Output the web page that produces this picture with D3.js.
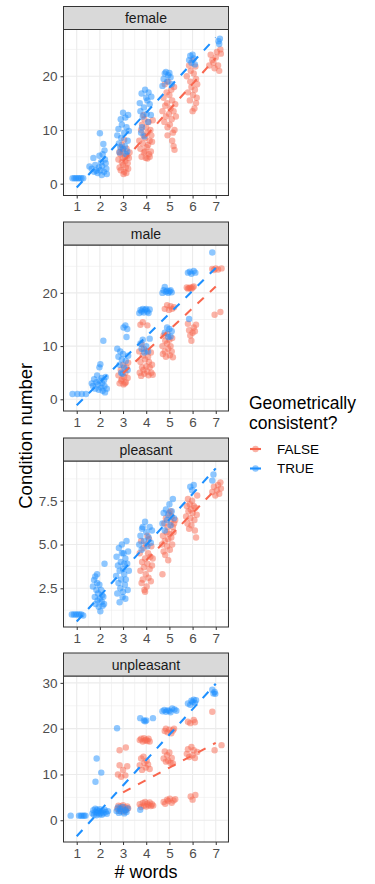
<!DOCTYPE html>
<html>
<head>
<meta charset="utf-8">
<script src="https://cdn.jsdelivr.net/npm/d3@7"></script>
<style>
  body { margin: 0; background: #fff; }
  text { font-family: "Liberation Sans", Arial, sans-serif; }
</style>
</head>
<body>
<div id="chart"></div>
<script>
// facets, top to bottom
const panels = ["female", "male", "pleasant", "unpleasant"];
const groups = ["FALSE", "TRUE"];
const xTicks = [1, 2, 3, 4, 5, 6, 7];
const yTicks = {
    female: [0, 10, 20],
    male: [0, 10, 20],
    pleasant: [2.5, 5.0, 7.5],
    unpleasant: [0, 10, 20, 30]
};
const yMinor = {
    female: [5, 15, 25],
    male: [5, 15, 25],
    pleasant: [1.25, 3.75, 6.25, 8.75],
    unpleasant: [-5, 5, 15, 25]
};
const yDomains = {
    female: [-2.2, 28.7],
    male: [-2.2, 29.0],
    pleasant: [0.29, 9.77],
    unpleasant: [-4.75, 31.5]
};

// jittered points [x, condition number]
const femaleTrue = [[0.82,1],[0.9,1],[0.97,1],[1.05,1],[1.12,1],[1.2,1],[1.28,1],
    [1.55,3.2],[1.65,2.8],[1.72,4.8],[1.8,3.5],[1.85,2.4],[1.9,2.0],[1.95,3.0],[2.0,9.4],[2.02,2.5],[2.05,4.0],[2.1,3.3],[2.12,5.5],[2.15,7.4],[2.18,2.2],[2.22,4.5],[2.25,3.8],[2.28,2.8],[2.3,1.8],[1.75,2.2],[2.08,1.6],[1.98,5.2],[2.2,6.2],
    [2.75,9.0],[2.8,10.2],[2.82,7.5],[2.85,5.8],[2.9,12.0],[2.92,8.5],[2.95,11.0],[3.0,6.5],[3.0,13.2],[3.05,9.5],[3.08,7.0],[3.1,12.3],[3.12,5.5],[3.15,10.5],[3.2,8.0],[3.22,12.8],[2.88,6.8],[3.18,6.0],[3.25,9.8],
    [3.72,15.0],[3.75,13.5],[3.8,16.8],[3.85,12.5],[3.9,14.2],[3.95,17.5],[4.0,16.0],[4.02,13.0],[4.05,15.5],[4.1,17.0],[4.15,14.8],[4.2,12.8],[3.82,10.5],[3.78,9.5],[4.08,11.5],[4.22,16.2],[3.92,8.8],
    [4.75,19.5],[4.8,20.5],[4.85,20.8],[4.9,19.0],[4.95,20.2],[5.0,20.6],[5.05,19.8],[5.1,18.5],[4.7,18.2],
    [5.85,23.0],[5.9,23.8],[5.95,22.5],[6.0,24.0],[6.05,23.3],[6.1,22.2],
    [7.12,26.5],[7.18,27.0],[7.15,26.0]];
const femaleFalse = [[2.8,4.5],[2.85,3.0],[2.88,5.5],[2.9,2.5],[2.95,4.0],[3.0,6.0],[3.0,3.5],[3.05,2.2],[3.08,5.0],[3.1,4.2],[3.12,3.0],[3.15,6.5],[3.18,5.2],[3.2,3.8],[3.22,2.8],[3.25,4.8],[2.92,6.5],[3.02,1.8],[3.14,2.0],[2.98,4.8],[3.28,5.8],[2.84,5.9],[3.05,8.2],[2.95,7.2],
    [3.7,8.0],[3.75,6.5],[3.78,10.0],[3.8,5.0],[3.82,11.0],[3.85,7.5],[3.88,9.0],[3.9,5.8],[3.92,12.0],[3.95,8.5],[3.98,4.8],[4.0,10.5],[4.02,6.8],[4.05,9.5],[4.08,7.2],[4.1,11.5],[4.12,5.5],[4.15,8.0],[4.18,10.0],[4.2,6.0],[4.22,9.0],[4.25,7.8],[4.28,11.8],[3.88,12.8],[4.05,4.7],[3.95,6.0],[4.15,5.0],
    [4.7,13.5],[4.75,16.0],[4.78,11.5],[4.8,18.5],[4.82,14.5],[4.85,12.5],[4.88,17.0],[4.9,15.0],[4.92,10.5],[4.95,19.0],[4.98,13.0],[5.0,16.5],[5.02,11.0],[5.05,14.0],[5.08,17.5],[5.1,12.0],[5.12,15.5],[5.15,9.5],[5.18,13.5],[5.2,18.0],[5.22,10.0],[5.25,14.8],[5.12,8.0],[5.18,7.0],[5.22,6.3],[5.28,12.5],[4.92,9.0],
    [5.75,20.0],[5.8,17.0],[5.85,22.0],[5.88,15.5],[5.9,19.0],[5.92,21.0],[5.95,18.0],[6.0,23.0],[6.02,16.5],[6.05,20.5],[6.08,14.0],[6.1,17.5],[6.12,21.8],[6.15,19.5],[6.18,16.0],[6.2,18.5],[6.15,15.0],[6.0,13.5],
    [6.72,22.0],[6.78,24.0],[6.85,23.0],[6.9,22.5],[6.95,21.5],[7.0,23.5],[7.05,24.5],[7.1,22.0],[7.15,21.0],[7.2,25.0],[7.22,24.2]];

const maleTrue = [[0.82,1],[1.03,1],[1.22,1],[1.4,1],
    [1.65,3.0],[1.7,2.5],[1.75,3.8],[1.8,2.0],[1.85,3.2],[1.88,4.5],[1.92,2.8],[1.95,1.8],[2.0,3.5],[2.02,6.6],[2.05,2.2],[2.08,4.0],[2.1,3.0],[2.12,1.6],[2.15,11.0],[2.18,3.6],[2.2,2.5],[2.25,4.2],[2.3,2.0],[1.98,6.0],[2.22,1.3],
    [2.75,9.5],[2.8,8.0],[2.85,6.5],[2.88,9.0],[2.92,5.0],[2.95,7.5],[3.0,8.5],[3.02,13.5],[3.05,6.0],[3.1,13.9],[3.12,7.2],[3.15,11.7],[3.18,13.2],[3.2,5.5],[3.22,8.2],[2.98,4.8],
    [3.7,16.2],[3.75,16.8],[3.8,16.5],[3.85,17.0],[3.9,16.3],[3.95,16.8],[4.0,17.0],[4.05,16.5],[4.1,16.2],[4.15,16.9],[3.75,10.5],[3.8,9.5],[3.85,11.2],[3.92,8.8],[4.0,10.0],[4.08,9.0],[4.15,11.4],
    [4.7,20.0],[4.75,20.5],[4.8,21.1],[4.85,20.2],[4.9,20.4],[4.95,20.0],[5.0,20.3],[5.05,20.5],[5.1,20.1],[4.8,12.5],[4.9,13.5],[5.0,13.2],[5.05,11.8],[5.1,12.8],[4.95,11.7],
    [5.8,23.8],[5.88,24.0],[5.95,23.6],[6.05,24.1],[6.12,23.8],[5.85,15.1],
    [6.85,27.6]];
const maleFalse = [[2.8,4.5],[2.85,3.0],[2.9,5.5],[2.95,3.8],[3.0,6.5],[3.02,2.8],[3.05,4.2],[3.1,5.0],[3.12,3.2],[3.15,6.0],[3.2,4.0],[3.22,6.9],[2.92,3.5],[3.08,3.0],
    [3.7,9.0],[3.72,5.0],[3.75,7.0],[3.78,4.4],[3.8,10.4],[3.82,6.0],[3.85,8.2],[3.88,5.5],[3.9,9.5],[3.92,4.8],[3.95,7.5],[4.0,6.2],[4.02,9.0],[4.05,5.2],[4.08,8.0],[4.1,4.5],[4.12,7.0],[4.15,6.0],[4.2,8.8],[4.22,5.0],[4.25,6.5],[4.28,4.6],[3.75,14.0],[3.85,14.5],[4.05,13.9],
    [4.7,10.0],[4.72,8.5],[4.75,12.0],[4.8,9.0],[4.82,11.0],[4.85,8.0],[4.9,10.5],[4.92,12.3],[4.95,9.5],[5.0,11.2],[5.02,8.3],[5.05,10.0],[5.1,9.0],[5.12,11.5],[5.15,7.9],[4.8,17.0],[4.9,17.7],[4.98,16.8],[5.05,17.5],[5.12,17.0],[5.2,17.3],
    [5.75,21.0],[5.8,20.8],[5.85,20.9],[5.9,21.0],[5.95,20.8],[6.0,21.0],[6.05,21.2],[5.8,14.2],[5.85,13.0],[5.9,12.0],[5.95,11.0],[6.0,12.5],[6.05,13.5],[6.1,12.8],[6.15,14.0],
    [6.85,24.5],[6.92,24.3],[7.0,24.6],[7.1,24.4],[7.25,24.6],[6.95,15.9],[7.2,16.4]];

const pleasantTrue = [[0.79,1.0],[0.88,1.0],[0.96,1.0],[1.04,1.0],[1.12,1.0],[1.2,1.0],[1.28,0.95],
    [1.7,2.6],[1.75,2.98],[1.78,2.0],[1.8,3.17],[1.82,1.6],[1.85,2.4],[1.88,2.8],[1.9,1.8],[1.92,2.2],[1.95,1.44],[1.98,2.7],[2.0,1.9],[2.02,1.19],[2.05,2.4],[2.08,1.73],[2.1,2.1],[2.12,1.5],[2.15,2.02],[2.18,1.6],[2.2,3.9],[1.88,3.3],
    [2.7,3.2],[2.72,4.3],[2.75,2.2],[2.78,3.8],[2.8,2.8],[2.82,4.8],[2.85,3.5],[2.88,2.5],[2.9,4.0],[2.92,3.0],[2.95,5.0],[2.98,2.0],[3.0,3.6],[3.02,4.5],[3.05,3.3],[3.08,2.7],[3.1,4.2],[3.12,3.0],[3.15,5.2],[3.18,3.9],[3.2,2.4],[3.22,4.6],[3.25,3.5],[2.85,1.7],[3.0,2.3],[3.1,1.9],[2.95,4.5],[3.05,3.9],
    [3.7,5.0],[3.75,5.5],[3.8,4.7],[3.85,6.0],[3.9,5.2],[3.95,6.3],[4.0,5.7],[4.05,4.9],[4.1,5.4],[4.15,6.0],[4.2,5.1],[4.25,5.8],[3.82,5.9],
    [4.7,6.2],[4.75,6.8],[4.8,5.8],[4.85,7.0],[4.9,6.4],[4.95,6.7],[5.0,7.3],[5.05,6.1],[5.1,6.9],[5.15,7.6],[5.2,6.5],
    [5.9,8.3],[5.98,8.1],[6.05,8.4],
    [6.85,8.65],[6.9,9.0]];
const pleasantFalse = [[3.72,4.5],[3.75,3.5],[3.78,5.2],[3.8,2.8],[3.82,4.0],[3.85,3.0],[3.88,4.8],[3.9,3.7],[3.92,2.4],[3.95,4.2],[3.98,3.3],[4.0,5.0],[4.02,2.6],[4.05,3.9],[4.08,4.5],[4.1,3.1],[4.12,5.3],[4.15,3.6],[4.18,4.3],[4.2,2.9],[4.22,4.9],[4.25,3.8],[4.28,4.2],[3.95,2.3],[4.05,5.5],
    [4.68,5.0],[4.72,5.5],[4.75,4.6],[4.78,6.2],[4.8,5.2],[4.82,4.4],[4.85,6.5],[4.88,5.7],[4.9,4.9],[4.92,6.0],[4.95,5.3],[4.98,6.8],[5.0,5.6],[5.02,4.7],[5.05,6.3],[5.08,5.4],[5.1,6.6],[5.12,5.0],[5.15,6.0],[5.18,5.7],[5.2,6.2],[5.25,6.4],[4.7,3.3],[4.95,4.1],[5.05,6.9],
    [5.72,6.6],[5.75,7.2],[5.78,6.2],[5.8,7.6],[5.82,6.9],[5.85,5.9],[5.88,7.3],[5.9,6.5],[5.92,7.0],[5.95,6.1],[5.98,7.5],[6.0,6.8],[6.05,7.2],[6.08,6.4],[6.1,5.8],[6.12,7.1],[6.15,5.4],[6.18,6.7],[6.2,7.8],
    [6.85,8.0],[6.92,8.3],[6.98,7.8],[7.05,8.1],[7.1,8.4],[7.15,7.9],[7.2,8.55],[7.22,8.2]];

const unpleasantTrue = [[0.74,1.0],[1.1,1.0],[1.18,1.0],[1.25,1.0],[1.32,1.0],[1.38,1.0],
    [1.68,1.5],[1.72,2.2],[1.75,1.2],[1.8,2.5],[1.82,1.8],[1.85,1.1],[1.88,2.3],[1.9,1.6],[1.95,2.0],[1.98,1.3],[2.0,2.4],[2.05,1.7],[2.08,1.2],[2.1,2.1],[2.15,1.5],[2.2,2.3],[2.25,1.8],[2.3,1.4],[2.35,2.0],[1.86,13.5],[2.06,10.4],[1.81,8.4],
    [2.74,20.1],[2.72,2.0],[2.78,2.8],[2.82,1.6],[2.88,2.5],[2.92,1.9],[2.98,2.9],[3.05,1.5],[3.1,2.2],[3.15,1.8],[3.2,2.6],
    [3.74,22.3],[3.9,21.8],[3.95,21.6],[4.0,21.8],[4.29,22.3],[3.74,2.3],
    [4.7,23.8],[4.78,24.1],[4.85,23.7],[4.92,24.0],[5.0,23.9],[5.05,23.6],[5.12,24.4],[5.22,24.2],[5.3,23.9],
    [5.8,25.5],[5.9,25.2],[5.95,26.1],[6.0,25.8],[6.05,26.3],[6.1,25.6],[6.15,26.2],
    [6.85,28.5],[6.9,27.7],[6.95,28.0],[6.98,27.6]];
const unpleasantFalse = [[2.75,2.5],[2.8,3.2],[2.85,2.0],[2.9,3.0],[2.95,2.4],[3.0,3.3],[3.02,1.9],[3.08,2.8],[3.12,2.2],[3.18,3.0],[3.22,2.6],[2.85,15.3],[3.12,15.9],[2.78,10.0],[2.85,12.0],[2.92,9.5],[3.0,11.0],[3.1,9.8],[3.18,11.8],
    [3.72,17.5],[3.78,17.8],[3.85,17.2],[3.9,17.9],[3.95,17.4],[4.0,17.6],[4.05,17.3],[4.1,17.8],[4.15,17.2],[3.72,12.0],[3.78,13.5],[3.82,11.0],[3.88,13.9],[3.92,12.5],[3.98,11.5],[4.02,13.0],[4.08,12.2],[4.15,11.2],
    [3.72,3.5],[3.78,2.9],[3.85,3.8],[3.9,3.2],[3.95,4.0],[4.0,3.0],[4.05,3.6],[4.1,3.3],[4.15,3.9],[4.2,3.1],[4.25,3.5],[4.3,3.2],
    [4.8,19.5],[4.85,20.0],[4.92,19.2],[5.0,19.8],[5.08,19.0],[5.15,19.6],[5.2,20.0],[4.75,13.5],[4.8,15.0],[4.85,12.8],[4.9,14.2],[4.95,13.0],[5.0,14.8],[5.05,12.5],[5.1,13.6],[5.15,12.4],
    [4.75,4.0],[4.82,3.6],[4.9,4.5],[4.95,4.2],[5.02,4.7],[5.1,3.8],[5.18,4.3],[5.25,4.6],
    [5.8,21.5],[5.9,21.2],[6.05,21.9],[6.1,21.4],[5.75,14.5],[5.8,15.5],[5.85,13.8],[5.95,16.0],[6.0,14.2],[6.05,15.3],[6.1,13.6],[6.2,14.9],[5.92,5.2],[6.0,4.5],[6.12,5.5],
    [6.85,23.7],[6.95,15.3],[7.25,16.4]];

// fitted lm lines [x1, y1, x2, y2]
const fitTrue = {female: [1, -0.7, 7, 27.2], male: [1, -1.1, 7, 24.7], pleasant: [1, 0.6, 7, 9.35], unpleasant: [1, -3.5, 7, 29.8]};
const fitFalse = {female: [3, 4.1, 7, 23.4], male: [3, 4.9, 7, 21.2], pleasant: [4, 4.1, 7, 8.15], unpleasant: [3, 6.1, 7, 16.9]};

const points = {
    female: {FALSE: femaleFalse, TRUE: femaleTrue},
    male: {FALSE: maleFalse, TRUE: maleTrue},
    pleasant: {FALSE: pleasantFalse, TRUE: pleasantTrue},
    unpleasant: {FALSE: unpleasantFalse, TRUE: unpleasantTrue}
};
const fits = {FALSE: fitFalse, TRUE: fitTrue};

const colors = {FALSE: "#F8674F", TRUE: "#1E90FF"};

const W = 375, H = 884;
const plotLeft = 63.5, plotRight = 228.5;
const stripH = 23;
const panelTops = [6.5, 222, 438, 653];   // strip tops
const panelH = 166;                        // plot area height under strip

const svg = d3.select("#chart").append("svg")
    .attr("width", W)
    .attr("height", H);

const x = d3.scaleLinear().domain([0.43, 7.55]).range([plotLeft, plotRight]);

panels.forEach((p, i) => {
    let top = panelTops[i] + stripH;
    let bottom = top + panelH;
    let y = d3.scaleLinear().domain(yDomains[p]).range([bottom, top]);

    let g = svg.append("g").attr("class", "panel-" + p);

    // background + grid
    g.append("rect")
        .attr("x", plotLeft).attr("y", top)
        .attr("width", plotRight - plotLeft).attr("height", panelH)
        .attr("fill", "#fff");

    let clip = "clip-" + p;
    svg.append("clipPath").attr("id", clip)
        .append("rect")
        .attr("x", plotLeft).attr("y", top)
        .attr("width", plotRight - plotLeft).attr("height", panelH);

    let grid = g.append("g").attr("clip-path", `url(#${clip})`);
    grid.selectAll(".xminor")
        .data(xTicks.map(d => d + 0.5).concat([0.5]))
        .join("line")
        .attr("x1", d => x(d)).attr("x2", d => x(d))
        .attr("y1", top).attr("y2", bottom)
        .attr("stroke", "#EBEBEB").attr("stroke-width", 0.55);
    grid.selectAll(".yminor")
        .data(yMinor[p])
        .join("line")
        .attr("x1", plotLeft).attr("x2", plotRight)
        .attr("y1", d => y(d)).attr("y2", d => y(d))
        .attr("stroke", "#EBEBEB").attr("stroke-width", 0.55);
    grid.selectAll(".xmajor")
        .data(xTicks)
        .join("line")
        .attr("x1", d => x(d)).attr("x2", d => x(d))
        .attr("y1", top).attr("y2", bottom)
        .attr("stroke", "#EBEBEB").attr("stroke-width", 1.1);
    grid.selectAll(".ymajor")
        .data(yTicks[p])
        .join("line")
        .attr("x1", plotLeft).attr("x2", plotRight)
        .attr("y1", d => y(d)).attr("y2", d => y(d))
        .attr("stroke", "#EBEBEB").attr("stroke-width", 1.1);

    // points
    let marks = g.append("g").attr("clip-path", `url(#${clip})`);
    groups.forEach(grp => {
        marks.append("g").selectAll("circle")
            .data(points[p][grp])
            .join("circle")
            .attr("cx", d => x(d[0]))
            .attr("cy", d => y(d[1]))
            .attr("r", 3.2)
            .attr("fill", colors[grp])
            .attr("fill-opacity", 0.5);
    });
    // fit lines
    groups.forEach(grp => {
        let f = fits[grp][p];
        marks.append("line")
            .attr("x1", x(f[0])).attr("y1", y(f[1]))
            .attr("x2", x(f[2])).attr("y2", y(f[3]))
            .attr("stroke", colors[grp])
            .attr("stroke-width", 2.1)
            .attr("stroke-dasharray", "8.5,8.5");
    });

    // border
    g.append("rect")
        .attr("x", plotLeft).attr("y", top)
        .attr("width", plotRight - plotLeft).attr("height", panelH)
        .attr("fill", "none").attr("stroke", "#333333").attr("stroke-width", 1);

    // strip
    g.append("rect")
        .attr("x", plotLeft).attr("y", panelTops[i])
        .attr("width", plotRight - plotLeft).attr("height", stripH)
        .attr("fill", "#D9D9D9").attr("stroke", "#333333").attr("stroke-width", 1);
    g.append("text")
        .attr("x", (plotLeft + plotRight) / 2)
        .attr("y", panelTops[i] + stripH / 2 + 5)
        .attr("text-anchor", "middle")
        .attr("font-size", 14)
        .attr("fill", "#1A1A1A")
        .text(p);

    // axes
    let xAxis = d3.axisBottom(x).tickValues(xTicks).tickSize(3).tickPadding(3).tickFormat(d3.format("d"));
    let gx = g.append("g")
        .attr("transform", `translate(0, ${bottom})`)
        .call(xAxis);
    let yAxis = d3.axisLeft(y).tickValues(yTicks[p]).tickSize(3).tickPadding(3)
        .tickFormat(p === "pleasant" ? d3.format(".1f") : d3.format("d"));
    let gy = g.append("g")
        .attr("transform", `translate(${plotLeft}, 0)`)
        .call(yAxis);
    [gx, gy].forEach(a => {
        a.select(".domain").remove();
        a.selectAll(".tick line").attr("stroke", "#333333").attr("stroke-width", 1);
        a.selectAll(".tick text")
            .attr("fill", "#4D4D4D")
            .attr("font-size", 13.5)
            .attr("font-family", "Liberation Sans, Arial, sans-serif");
    });
});

// axis titles
svg.append("text")
    .attr("x", (plotLeft + plotRight) / 2)
    .attr("y", 878)
    .attr("text-anchor", "middle")
    .attr("font-size", 18)
    .attr("fill", "#000")
    .text("# words");

svg.append("text")
    .attr("transform", `translate(31.5, ${(panelTops[0] + stripH + panelTops[3] + stripH + panelH) / 2}) rotate(-90)`)
    .attr("text-anchor", "middle")
    .attr("font-size", 18.5)
    .attr("fill", "#000")
    .text("Condition number");

// legend
let legend = svg.append("g").attr("class", "legend");
legend.append("text")
    .attr("x", 249).attr("y", 409)
    .attr("font-size", 17.5)
    .text("Geometrically");
legend.append("text")
    .attr("x", 249).attr("y", 429)
    .attr("font-size", 17.5)
    .text("consistent?");

groups.forEach((grp, i) => {
    let cy = 449 + i * 19.5;
    legend.append("line")
        .attr("x1", 250).attr("x2", 261)
        .attr("y1", cy).attr("y2", cy)
        .attr("stroke", colors[grp]).attr("stroke-width", 2.1);
    legend.append("circle")
        .attr("cx", 255.5).attr("cy", cy).attr("r", 3.2)
        .attr("fill", colors[grp]).attr("fill-opacity", 0.5);
    legend.append("text")
        .attr("x", 277).attr("y", cy + 4.8)
        .attr("font-size", 13.5)
        .attr("fill", "#000")
        .text(grp);
});
</script>
</body>
</html>
